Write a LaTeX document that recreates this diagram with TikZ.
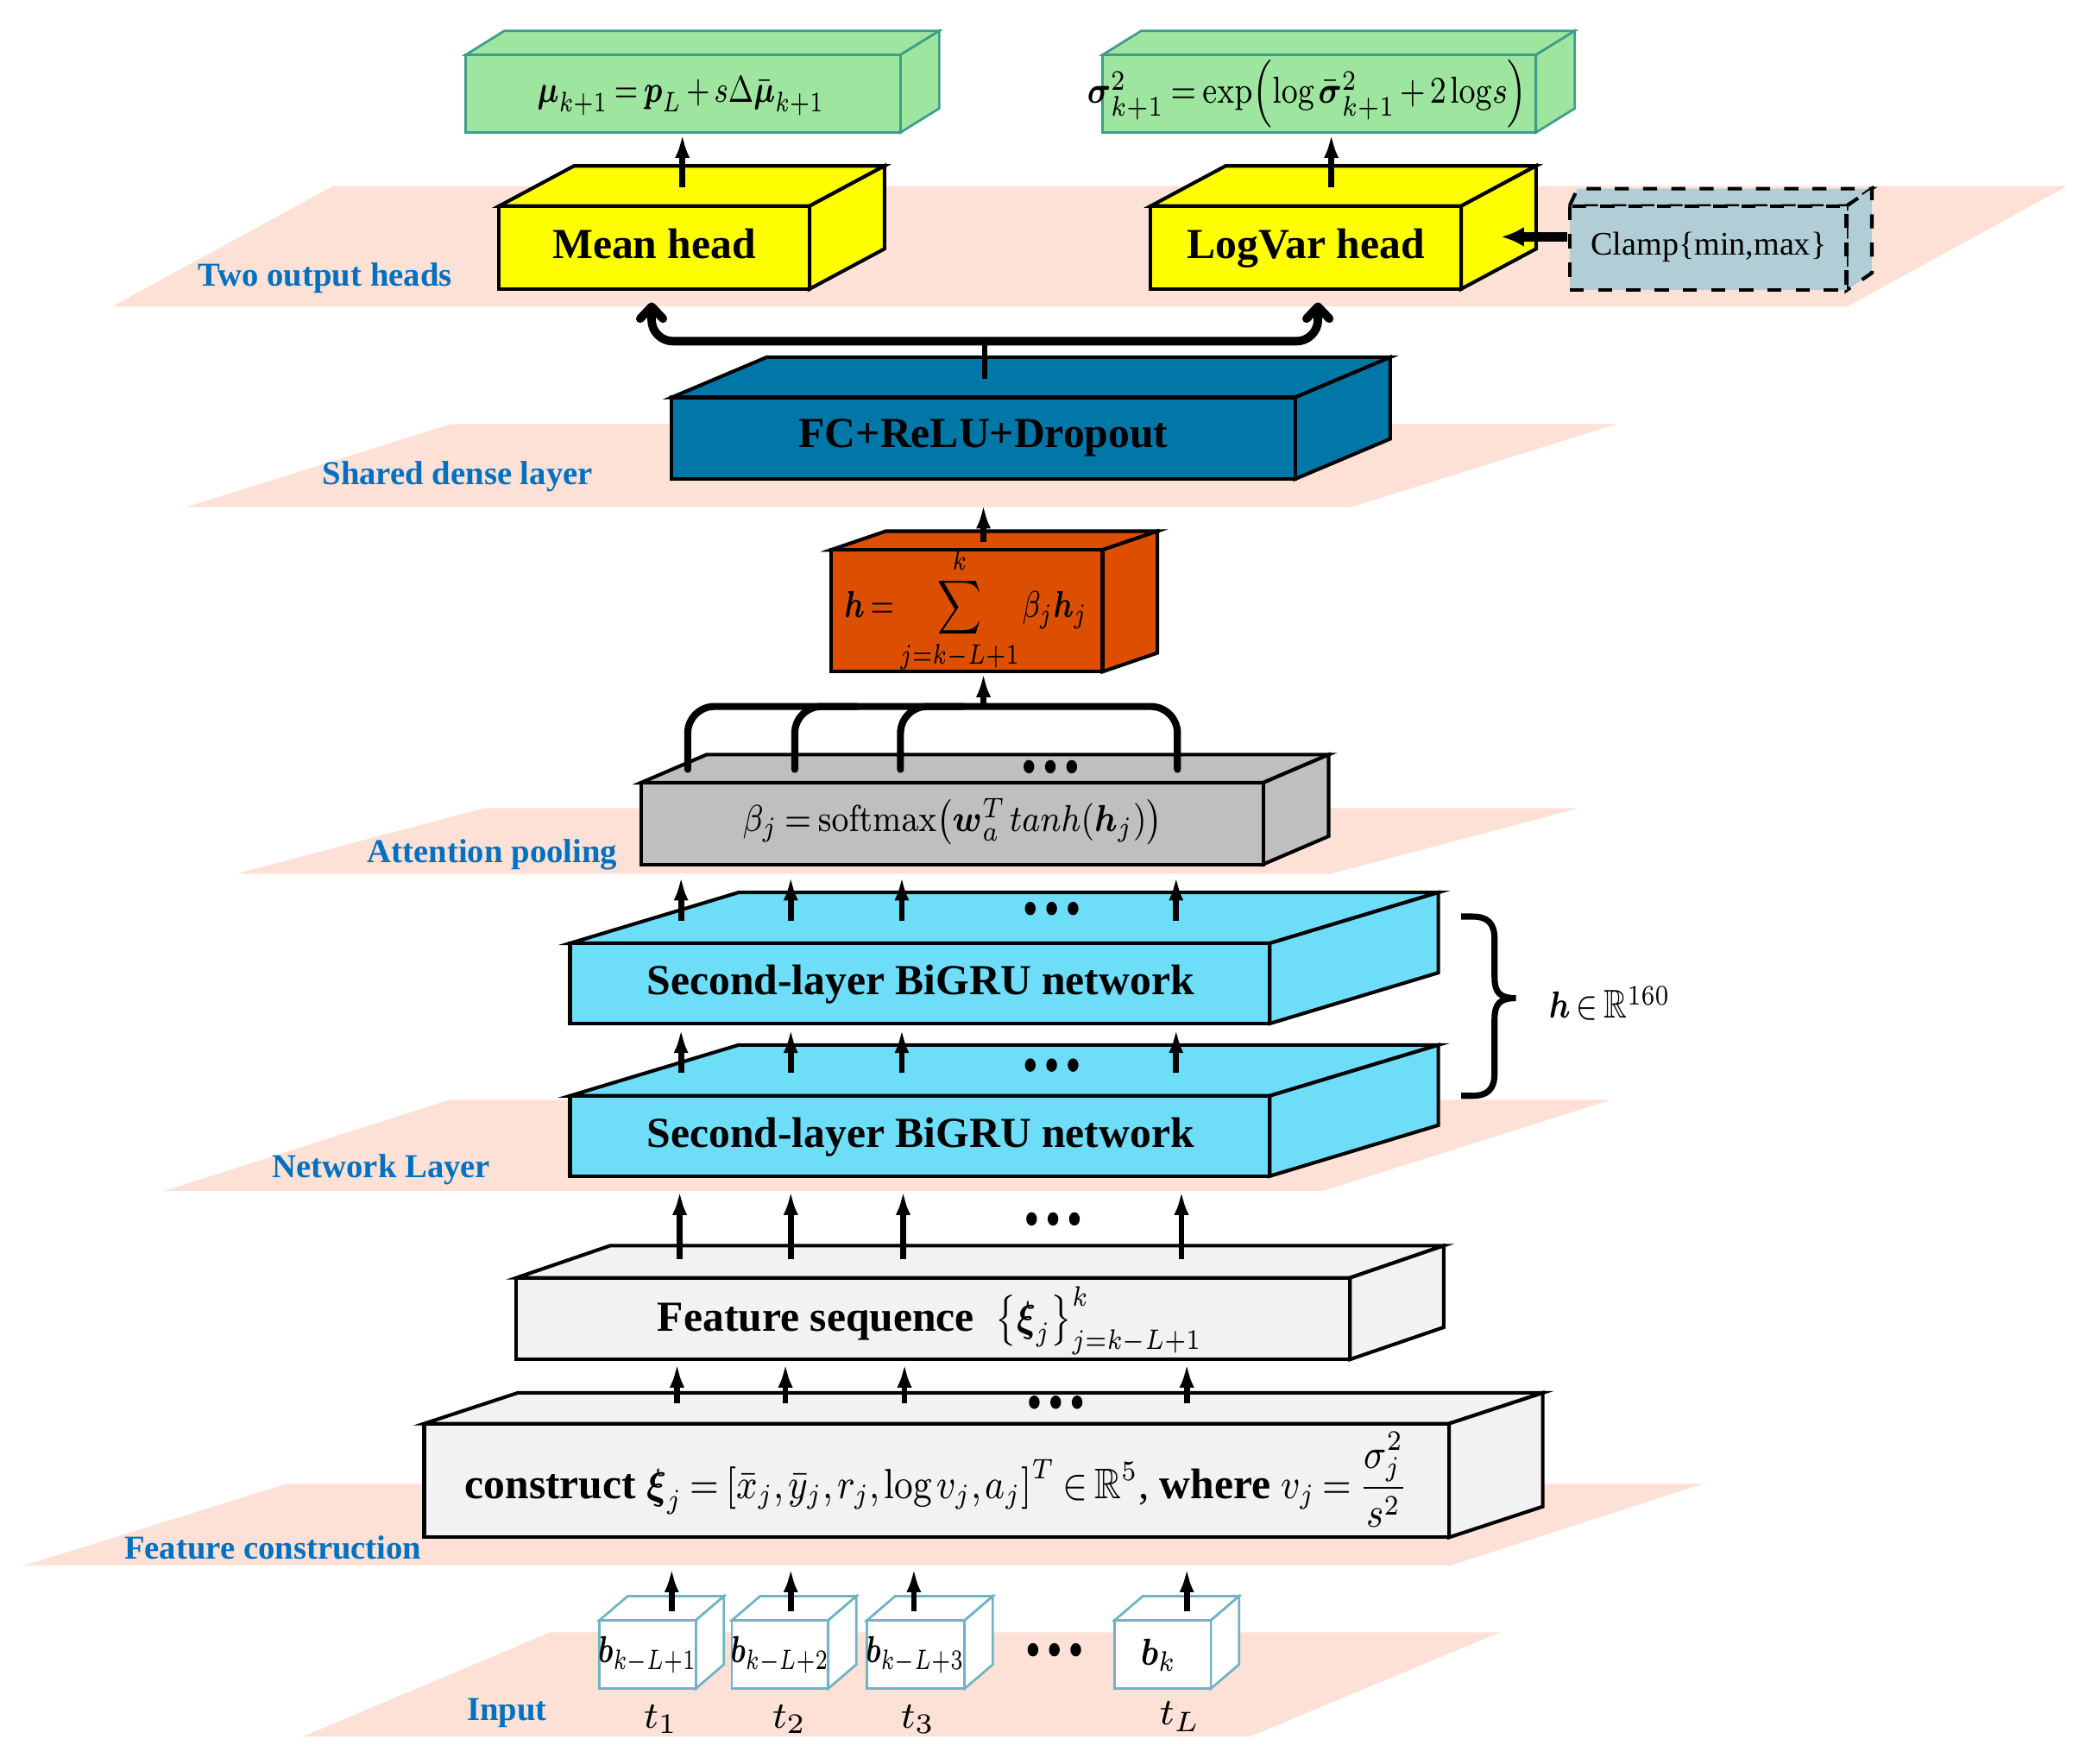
\documentclass[tikz,border=0pt]{standalone}
\usepackage{amsmath}
\usepackage{amssymb}
\usepackage{graphicx}
\usepackage[no-math]{fontspec}
\setmainfont{Liberation Serif}
\usetikzlibrary{arrows.meta}
\definecolor{planec}{HTML}{FDE1D6}
\definecolor{lblblue}{HTML}{0070C0}
\definecolor{greenc}{HTML}{9EE6A0}
\definecolor{greend}{HTML}{3F9C8C}
\definecolor{yellowc}{HTML}{FFFF00}
\definecolor{clampc}{HTML}{B1CDD6}
\definecolor{fcc}{HTML}{0077A6}
\definecolor{orangec}{HTML}{DD4F00}
\definecolor{grayc}{HTML}{BFBFBF}
\definecolor{cyanc}{HTML}{6EDDF8}
\definecolor{lightc}{HTML}{F2F2F2}
\definecolor{inpd}{HTML}{6FB3C4}
\newcommand{\mycuboid}[7]{%
  \filldraw[#7] (#1,#2) -- ({#1+#5},{#2+#6}) -- ({#3+#5},{#2+#6}) -- (#3,#2) -- cycle;
  \filldraw[#7] (#3,#2) -- ({#3+#5},{#2+#6}) -- ({#3+#5},{#4+#6}) -- (#3,#4) -- cycle;
  \filldraw[#7] (#1,#2) rectangle (#3,#4);
}
\newcommand{\mydots}[2]{%
  \fill ({#1-16},#2) ellipse [x radius=4, y radius=5];
  \fill (#1,#2) ellipse [x radius=4, y radius=5];
  \fill ({#1+16},#2) ellipse [x radius=4, y radius=5];
}
\newcommand{\cmx}[2]{\scalebox{#1}[1]{$#2$}}
\tikzset{
  plane/.style={fill=planec, draw=none},
  boxk/.style={draw=black, line width=0.75pt, line join=miter},
  title/.style={font=\fontsize{9.1}{11}\selectfont\bfseries, inner sep=0pt},
  lbl/.style={font=\fontsize{7.1}{9}\selectfont\bfseries, text=lblblue, inner sep=0pt},
  mth/.style={font=\fontsize{8}{10}\selectfont, inner sep=0pt},
  arr/.style={line width=1.25pt, -{Latex[length=0.18cm,width=0.11cm]}},
  barb/.style={line width=1.8pt, rounded corners=0.16cm, -{Straight Barb[length=0.09cm,width=0.17cm,round]}},
  tree/.style={line width=1.5pt, rounded corners=0.2cm, line cap=round},
}
\begin{document}
\thinmuskip=2mu
\medmuskip=2.5mu
\thickmuskip=3.5mu
\begin{tikzpicture}[x=0.01cm, y=-0.01cm]
\useasboundingbox (0,0) rectangle (1568,1318);
% planes
\fill[plane] (249,139) -- (1545,139) -- (1381,229) -- (84,229) -- cycle;
\fill[plane] (337,317) -- (1208,317) -- (1010,379) -- (139,379) -- cycle;
\fill[plane] (362,604) -- (1180,604) -- (995,653) -- (177,653) -- cycle;
\fill[plane] (336,822) -- (1204,822) -- (989,890) -- (123,890) -- cycle;
\fill[plane] (214,1109) -- (1273,1109) -- (1084,1170) -- (18,1170) -- cycle;
\fill[plane] (411,1220) -- (1121,1220) -- (934,1298) -- (226,1298) -- cycle;
% layer labels
\node[lbl] (l1) at (243,208) {Two output heads};
\node[lbl] (l2) at (342,356) {Shared dense layer};
\node[lbl] (l3) at (368,639) {Attention pooling};
\node[lbl] (l4) at (285,874) {Network Layer};
\node[lbl] (l5) at (204,1157) {Feature construction};
\node[lbl] (l6) at (379,1280) {Input};
% output boxes
\mycuboid{348}{41}{673}{99}{29}{-18}{fill=greenc, draw=greend, line width=0.5pt}
\mycuboid{824}{41}{1148}{99}{29}{-18}{fill=greenc, draw=greend, line width=0.5pt}
\node[mth] (muf) at (509,72) {\cmx{0.76}{\boldsymbol{\mu}_{k+1}=\boldsymbol{p}_L+s\Delta\bar{\boldsymbol{\mu}}_{k+1}}};
\node[mth] (sigf) at (977,70) {\cmx{0.82}{\boldsymbol{\sigma}^2_{k+1}=\exp\!\left(\log\bar{\boldsymbol{\sigma}}^2_{k+1}+2\log\! s\right)}};
% heads
\mycuboid{373}{154}{605}{216}{56}{-30}{fill=yellowc, boxk}
\mycuboid{860}{154}{1092}{216}{56}{-30}{fill=yellowc, boxk}
\node[title, anchor=base] (meanh) at (489,193) {Mean head};
\node[title, anchor=base] (logvh) at (976,193) {LogVar head};
% clamp box
\filldraw[fill=clampc, draw=black, line width=0.75pt, dashed] (1173,154) -- (1179,141) -- (1399,141) -- (1380,154) -- cycle;
\filldraw[fill=clampc, draw=black, line width=0.75pt, dashed] (1380,154) -- (1399,141) -- (1399,204) -- (1380,217) -- cycle;
\filldraw[fill=clampc, draw=black, line width=0.75pt, dashed] (1173,154) rectangle (1380,217);
\node[font=\fontsize{7}{9}\selectfont, inner sep=0pt] (clamp) at (1277,185) {Clamp\{min,max\}};
% FC
\mycuboid{502}{297}{968}{358}{71}{-30}{fill=fcc, boxk}
\node[title] (fc) at (735,327) {FC+ReLU+Dropout};
% orange
\mycuboid{621}{411}{824}{502}{41}{-14}{fill=orangec, boxk}
\node[mth] (hsum) at (722,456) {\cmx{0.76}{\boldsymbol{h}=\displaystyle\sum_{j=k-L+1}^{k}\beta_j\boldsymbol{h}_j}};
% gray
\mycuboid{479}{585}{944}{646}{49}{-21}{fill=grayc, boxk}
\node[mth] (beta) at (712,614) {\cmx{0.86}{\beta_j=\mathrm{softmax}\!\left(\boldsymbol{w}_a^{T}\,tanh\!\left(\boldsymbol{h}_j\right)\right)}};
% cyan
\mycuboid{426}{705}{949}{765}{126}{-38}{fill=cyanc, boxk}
\mycuboid{426}{819}{949}{879}{126}{-38}{fill=cyanc, boxk}
\node[title] (gru2) at (688,736) {Second-layer BiGRU network};
\node[title] (gru1) at (688,850) {Second-layer BiGRU network};
% feature sequence
\mycuboid{386}{955}{1009}{1016}{70}{-24}{fill=lightc, boxk}
\node[title] (fseq) at (695,987) {Feature sequence\ \ {\mdseries\cmx{0.82}{\left\{\boldsymbol{\xi}_j\right\}_{j=k-L+1}^{k}}}};
% construct
\mycuboid{317}{1064}{1083}{1149}{70}{-23}{fill=lightc, boxk}
\node[title] (cons) at (700,1106) {construct {\mdseries\cmx{0.86}{\boldsymbol{\xi}_j=\left[\bar{x}_j,\bar{y}_j,r_j,\log v_j,a_j\right]^T\in\mathbb{R}^5},} where {\mdseries\cmx{0.86}{v_j=\dfrac{\sigma_j^2}{s^2}}}};
% input boxes
\mycuboid{448}{1211}{520}{1262}{21}{-18}{fill=white, draw=inpd, line width=0.5pt}
\mycuboid{547}{1211}{619}{1262}{21}{-18}{fill=white, draw=inpd, line width=0.5pt}
\mycuboid{648}{1211}{721}{1262}{21}{-18}{fill=white, draw=inpd, line width=0.5pt}
\mycuboid{833}{1211}{905}{1262}{21}{-18}{fill=white, draw=inpd, line width=0.5pt}
\node[mth] (b1) at (484,1237) {\cmx{0.72}{\boldsymbol{b}_{k-L+1}}};
\node[mth] (b2) at (583,1237) {\cmx{0.72}{\boldsymbol{b}_{k-L+2}}};
\node[mth] (b3) at (684,1237) {\cmx{0.72}{\boldsymbol{b}_{k-L+3}}};
\node[mth] (b4) at (866,1237) {\cmx{0.85}{\boldsymbol{b}_{k}}};
\node[mth] (t1) at (494,1285) {$t_1$};
\node[mth] (t2) at (590,1285) {$t_2$};
\node[mth] (t3) at (686,1285) {$t_3$};
\node[mth] (tL) at (882,1283) {$t_L$};
% brace and label
\draw[line width=1.3pt] (1092,685) -- (1100,685) .. controls (1112,685) and (1117,690) .. (1117,702) -- (1117,730) .. controls (1117,742) and (1121,746) .. (1133,746) .. controls (1121,746) and (1117,750) .. (1117,762) -- (1117,802) .. controls (1117,814) and (1112,819) .. (1100,819) -- (1092,819);
\node[font=\fontsize{8.5}{10}\selectfont, inner sep=0pt, anchor=west] (hR) at (1157,750) {\cmx{0.8}{\boldsymbol{h}\in\mathbb{R}^{160}}};
% coordinates and arrows: heads to outputs
\coordinate (mhT) at (510,140); \coordinate (muB) at (510,100);
\coordinate (lvT) at (995,140); \coordinate (sgB) at (995,100);
\draw[arr] (mhT) -- (muB);
\draw[arr] (lvT) -- (sgB);
\coordinate (clL) at (1171,177); \coordinate (lvR) at (1122,177);
\draw[line width=2pt, -{Latex[length=0.17cm,width=0.15cm]}] (clL) -- (lvR);
% split from FC
\coordinate (fcT) at (736,283); \coordinate (spl) at (736,255);
\coordinate (mhB) at (487,226); \coordinate (lvB) at (985,226);
\draw[line width=1.1pt] (fcT) -- (spl);
\draw[barb] (spl) -| (mhB);
\draw[barb] (spl) -| (lvB);
% orange to FC
\coordinate (orT) at (735,405); \coordinate (fcB) at (735,377);
\draw[arr] (orT) -- (fcB);
% attention tree
\draw[tree] (514,575) -- (514,528) -- (880,528) -- (880,575);
\draw[tree] (594,575) -- (594,528) -- (640,528);
\draw[tree] (673,575) -- (673,528) -- (720,528);
\coordinate (trT) at (735,529); \coordinate (orB) at (735,503);
\draw[arr] (trT) -- (orB);
\mydots{785}{573}
% cyan upper to gray
\foreach \x [count=\i] in {509,591,674,879} {
  \coordinate (cu\i) at (\x,688); \coordinate (gb\i) at (\x,655);
  \draw[arr] (cu\i) -- (gb\i);
}
\mydots{786}{679}
% cyan lower to upper
\foreach \x [count=\i] in {509,591,674,879} {
  \coordinate (cl\i) at (\x,802); \coordinate (ub\i) at (\x,769);
  \draw[arr] (cl\i) -- (ub\i);
}
\mydots{786}{796}
% feature seq to network
\foreach \x [count=\i] in {508,591,675,883} {
  \coordinate (fs\i) at (\x,941); \coordinate (nb\i) at (\x,890);
  \draw[arr] (fs\i) -- (nb\i);
}
\mydots{787}{911}
% construct to feature seq
\foreach \x [count=\i] in {506,587,676,887} {
  \coordinate (co\i) at (\x,1049); \coordinate (fb\i) at (\x,1019);
  \draw[arr] (co\i) -- (fb\i);
}
\mydots{789}{1048}
% input to construct
\foreach \x [count=\i] in {502,591,683,887} {
  \coordinate (in\i) at (\x,1204); \coordinate (cb\i) at (\x,1172);
  \draw[arr] (in\i) -- (cb\i);
}
\mydots{788}{1233}
\end{tikzpicture}
\end{document}
